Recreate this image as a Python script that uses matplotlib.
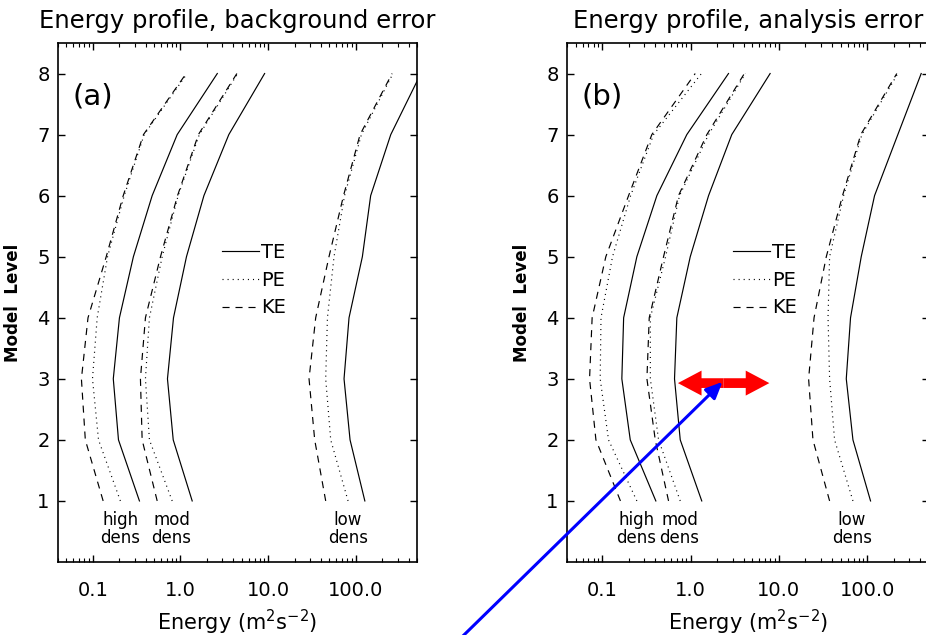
import numpy as np
import matplotlib.pyplot as plt
from matplotlib.ticker import FixedLocator, FixedFormatter, LogLocator, NullLocator, NullFormatter

# model levels
levels = [1, 2, 3, 4, 5, 6, 7, 8]

# (a) background error, energies in m^2 s^-2
bg_high_te = [0.34, 0.196, 0.171, 0.201, 0.29, 0.475, 0.917, 2.63]
bg_high_pe = [0.206, 0.116, 0.099, 0.112, 0.147, 0.228, 0.385, 1.19]
bg_high_ke = [0.131, 0.082, 0.074, 0.088, 0.142, 0.222, 0.378, 1.16]
bg_mod_te = [1.36, 0.826, 0.71, 0.832, 1.17, 1.85, 3.56, 9.12]
bg_mod_pe = [0.804, 0.442, 0.398, 0.442, 0.618, 0.94, 1.64, 4.5]
bg_mod_ke = [0.542, 0.365, 0.349, 0.398, 0.591, 0.925, 1.6, 4.4]
bg_low_te = [127, 86.1, 73.5, 83.8, 119, 148, 251, 553]
bg_low_pe = [81.7, 51.8, 45.4, 47.5, 56.5, 74.5, 116, 266]
bg_low_ke = [45.4, 34.0, 29.3, 34.9, 49.5, 72.5, 112, 260]

# (b) analysis error
an_high_te = [0.405, 0.208, 0.167, 0.175, 0.247, 0.416, 0.908, 2.69]
an_high_pe = [0.247, 0.118, 0.095, 0.097, 0.131, 0.21, 0.382, 1.33]
an_high_ke = [0.161, 0.085, 0.072, 0.077, 0.11, 0.199, 0.365, 1.13]
an_mod_te = [1.34, 0.765, 0.659, 0.70, 0.993, 1.6, 2.93, 7.96]
an_mod_pe = [0.765, 0.435, 0.351, 0.351, 0.522, 0.751, 1.6, 4.18]
an_mod_ke = [0.564, 0.399, 0.321, 0.341, 0.495, 0.731, 1.53, 4.07]
an_low_te = [109, 68.9, 57.9, 64.7, 85.5, 121, 222, 408]
an_low_pe = [68.9, 42.7, 37.5, 36.0, 37.5, 54.0, 87.0, 222]
an_low_ke = [37.5, 24.3, 21.7, 25.0, 34.4, 52.5, 84.5, 216]

group_names = ["high\ndens", "mod\ndens", "low\ndens"]
bg_label_x = [0.206, 0.79, 81]
an_label_x = [0.245, 0.75, 67]

xticks = [0.1, 1.0, 10.0, 100.0]
xtick_labels = ["0.1", "1.0", "10.0", "100.0"]

# red double arrow span (energy) at level ~2.93 in panel (b)
arrow_span = [0.72, 7.8]
arrow_level = 2.93

fig = plt.figure(figsize=(9.26, 6.35), dpi=100)
ax1 = fig.add_axes([58 / 926, 73 / 635, 359 / 926, 519 / 635])
ax2 = fig.add_axes([567 / 926, 73 / 635, 362 / 926, 519 / 635])

panels = [
    (ax1, "(a)", "Energy profile, background error",
     [(bg_high_te, bg_high_pe, bg_high_ke), (bg_mod_te, bg_mod_pe, bg_mod_ke),
      (bg_low_te, bg_low_pe, bg_low_ke)], bg_label_x),
    (ax2, "(b)", "Energy profile, analysis error",
     [(an_high_te, an_high_pe, an_high_ke), (an_mod_te, an_mod_pe, an_mod_ke),
      (an_low_te, an_low_pe, an_low_ke)], an_label_x),
]

for ax, tag, title, groups, label_x in panels:
    handles = None
    for te, pe, ke in groups:
        h1, = ax.plot(te, levels, color="black", lw=0.85, label="TE")
        h2, = ax.plot(pe, levels, color="black", lw=0.85, dashes=(0.9, 3.4), label="PE")
        h3, = ax.plot(ke, levels, color="black", lw=0.85, dashes=(6, 5), label="KE")
        if handles is None:
            handles = [h1, h2, h3]
    for name, lx in zip(group_names, label_x):
        ax.text(lx, 0.54, name, ha="center", va="center", fontsize=12, linespacing=1.0)

    ax.set_xscale("log")
    ax.set_xlim(0.04, 500)
    ax.set_ylim(0, 8.5)
    ax.xaxis.set_major_locator(FixedLocator(xticks))
    ax.xaxis.set_major_formatter(FixedFormatter(xtick_labels))
    ax.xaxis.set_minor_locator(LogLocator(base=10, subs=range(2, 10)))
    ax.xaxis.set_minor_formatter(NullFormatter())
    ax.set_yticks(levels)
    ax.yaxis.set_minor_locator(NullLocator())
    ax.tick_params(which="both", direction="in", top=True, right=True, labelsize=14)
    ax.tick_params(which="major", length=5, width=1)
    ax.tick_params(which="minor", length=3, width=0.8)
    ax.tick_params(axis="x", pad=14)
    ax.tick_params(axis="y", pad=6)
    for sp in ax.spines.values():
        sp.set_linewidth(1.2)

    ax.set_title(title, fontsize=17.5, pad=11)
    ax.set_xlabel("Energy (m$^2$s$^{-2}$)", fontsize=15, labelpad=5)
    ax.set_ylabel("Model  Level", fontsize=12, fontweight="bold", labelpad=11)
    ax.text(0.097, 0.896, tag, transform=ax.transAxes, fontsize=21,
            ha="center", va="center")

    ax.legend(handles=handles, loc="center left", bbox_to_anchor=(0.458, 0.543),
              frameon=False, fontsize=14, handlelength=1.9, handletextpad=0.1,
              labelspacing=0.45, borderpad=0, borderaxespad=0)

# red double arrow: two filled arrows pointing outward from the middle
mid = np.sqrt(arrow_span[0] * arrow_span[1])
for end in arrow_span:
    ax2.annotate("", xy=(end, arrow_level), xytext=(mid, arrow_level),
                 arrowprops=dict(arrowstyle="simple,head_length=17,head_width=18,tail_width=7",
                                 mutation_scale=1, color="red", lw=0,
                                 shrinkA=0, shrinkB=0))

# blue pointer from the bottom of the figure
ax2.annotate("", xy=(2.3, 2.95), xycoords="data",
             xytext=(0.494, -0.01), textcoords="figure fraction",
             arrowprops=dict(arrowstyle="-|>,head_length=1.0,head_width=0.45",
                             color="blue", lw=2.2, shrinkA=0, shrinkB=0),
             annotation_clip=False)

fig.savefig("out.png", dpi=100)
